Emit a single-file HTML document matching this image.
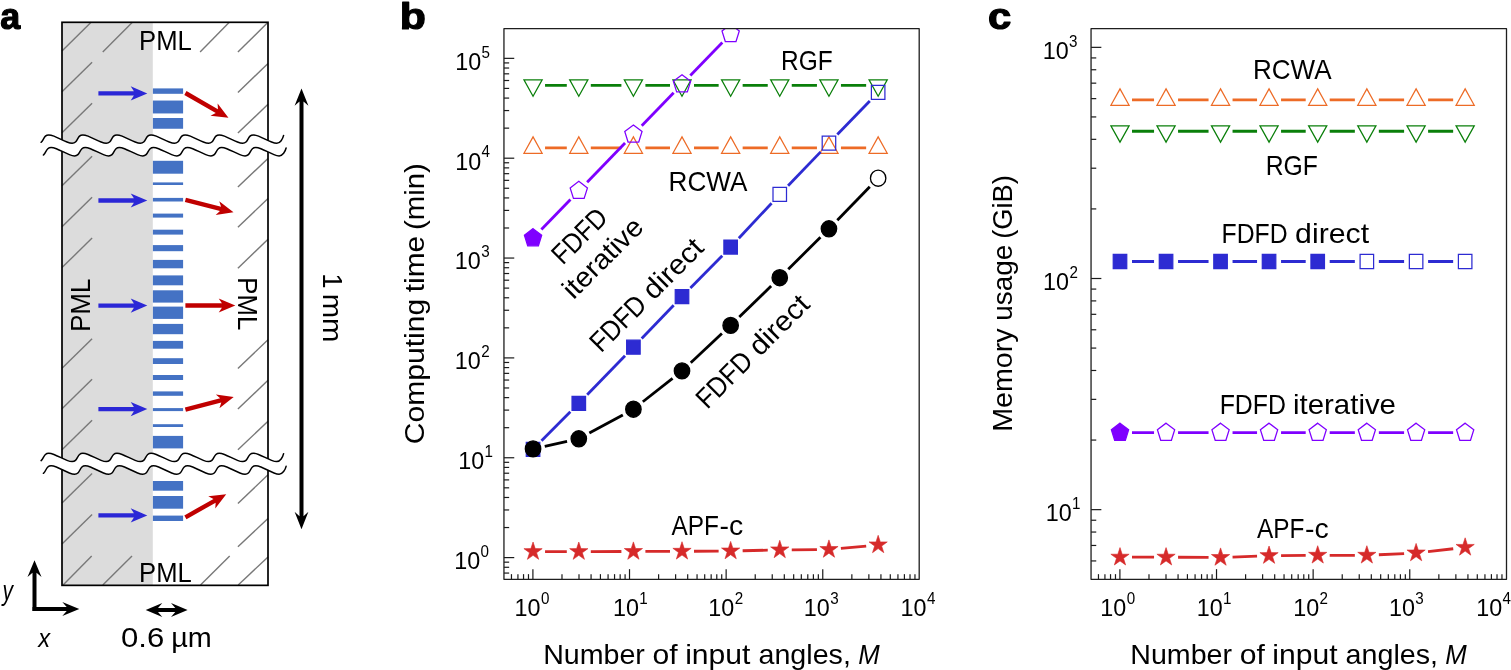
<!DOCTYPE html>
<html lang="en">
<head>
<meta charset="utf-8">
<title>Figure: computing time and memory usage</title>
<style>
html,body{margin:0;padding:0;background:#fff;}
body{width:1511px;height:670px;overflow:hidden;}
svg{display:block;}
text{font-family:"Liberation Sans", Arial, Helvetica, sans-serif;}
</style>
</head>
<body>
<svg width="1511" height="670" viewBox="0 0 1511 670" role="img" aria-label="Figure panels a, b and c">
<rect x="0" y="0" width="1511" height="670" fill="#fff"/>
<rect x="62" y="22.3" width="90.8" height="563.05" fill="#dcdcdc"/>
<g stroke="#787878" stroke-width="1.4" fill="none">
<line x1="62" y1="50.9" x2="91.1" y2="22.3"/>
<line x1="102.75" y1="51.9" x2="132.4" y2="22.3"/>
<line x1="200.1" y1="52.1" x2="229.3" y2="22.3"/>
<line x1="237.9" y1="52.1" x2="268" y2="22.3"/>
<line x1="62" y1="91.8" x2="92.1" y2="62.3"/>
<line x1="62" y1="132.8" x2="92.1" y2="103.2"/>
<line x1="62" y1="185.8" x2="92.1" y2="156.3"/>
<line x1="62" y1="226.7" x2="92.1" y2="197.2"/>
<line x1="62" y1="267.6" x2="92.1" y2="238.1"/>
<line x1="62" y1="368.2" x2="92.1" y2="338.7"/>
<line x1="62" y1="408.8" x2="92.1" y2="379.3"/>
<line x1="62" y1="449.7" x2="92.1" y2="420.2"/>
<line x1="62" y1="502.9" x2="92.1" y2="473.4"/>
<line x1="62" y1="544" x2="92.1" y2="514.5"/>
<line x1="237.9" y1="92.4" x2="268" y2="63.6"/>
<line x1="237.9" y1="133.1" x2="268" y2="104.3"/>
<line x1="237.9" y1="187" x2="268" y2="158.4"/>
<line x1="237.9" y1="227.3" x2="268" y2="198.5"/>
<line x1="237.9" y1="268.3" x2="268" y2="239.2"/>
<line x1="237.9" y1="368.5" x2="268" y2="339.7"/>
<line x1="237.9" y1="409.1" x2="268" y2="380.3"/>
<line x1="237.9" y1="449.8" x2="268" y2="421.2"/>
<line x1="237.9" y1="503.5" x2="268" y2="474.7"/>
<line x1="237.9" y1="546.8" x2="268" y2="518.4"/>
<line x1="63.1" y1="585" x2="91.7" y2="555.9"/>
<line x1="102.8" y1="585" x2="132" y2="555.9"/>
<line x1="200.5" y1="585" x2="229.7" y2="555.9"/>
<line x1="238.2" y1="585" x2="268" y2="556.9"/>
</g>
<g fill="#4472c4">
<rect x="152.9" y="88.4" width="30.2" height="5.4"/>
<rect x="152.9" y="100.55" width="30.2" height="12.9"/>
<rect x="152.9" y="118" width="30.2" height="10.75"/>
<rect x="152.9" y="160.8" width="30.2" height="12.9"/>
<rect x="152.9" y="182.4" width="30.2" height="2.6"/>
<rect x="152.9" y="197.9" width="30.2" height="3.6"/>
<rect x="152.9" y="213.6" width="30.2" height="4"/>
<rect x="152.9" y="229.7" width="30.2" height="4.9"/>
<rect x="152.9" y="245.1" width="30.2" height="6.1"/>
<rect x="152.9" y="259.9" width="30.2" height="8.4"/>
<rect x="152.9" y="275.4" width="30.2" height="9.9"/>
<rect x="152.9" y="290.3" width="30.2" height="12.3"/>
<rect x="152.9" y="306.6" width="30.2" height="12.3"/>
<rect x="152.9" y="323.9" width="30.2" height="10.3"/>
<rect x="152.9" y="340.9" width="30.2" height="7.8"/>
<rect x="152.9" y="358.2" width="30.2" height="5.8"/>
<rect x="152.9" y="375" width="30.2" height="5"/>
<rect x="152.9" y="391.4" width="30.2" height="4.4"/>
<rect x="152.9" y="408.1" width="30.2" height="3"/>
<rect x="152.9" y="424.2" width="30.2" height="2.8"/>
<rect x="152.9" y="435.9" width="30.2" height="12.5"/>
<rect x="152.9" y="481" width="30.2" height="9.7"/>
<rect x="152.9" y="496" width="30.2" height="12.7"/>
<rect x="152.9" y="515.6" width="30.2" height="5.4"/>
</g>
<rect x="62" y="22.3" width="206" height="563.05" fill="none" stroke="#000" stroke-width="1.7"/>
<path d="M41.1 142.31C41.2 142.24 41.29 142.16 41.38 142.07C42.22 141.29 42.81 140.2 43.4 139.1C43.99 138 44.58 136.91 45.42 136.13C46.25 135.35 47.33 134.9 48.75 134.9C50.17 134.9 51.93 135.35 53.94 136.13C55.95 136.91 58.2 138 60.45 139.1C62.7 140.2 64.95 141.29 66.96 142.07C68.97 142.85 70.73 143.3 72.15 143.3C73.57 143.3 74.65 142.85 75.48 142.07C76.32 141.29 76.91 140.2 77.5 139.1C78.09 138 78.68 136.91 79.52 136.13C80.35 135.35 81.43 134.9 82.85 134.9C84.27 134.9 86.03 135.35 88.04 136.13C90.05 136.91 92.3 138 94.55 139.1C96.8 140.2 99.05 141.29 101.06 142.07C103.07 142.85 104.83 143.3 106.25 143.3C107.67 143.3 108.75 142.85 109.58 142.07C110.42 141.29 111.01 140.2 111.6 139.1C112.19 138 112.78 136.91 113.62 136.13C114.45 135.35 115.53 134.9 116.95 134.9C118.37 134.9 120.13 135.35 122.14 136.13C124.15 136.91 126.4 138 128.65 139.1C130.9 140.2 133.15 141.29 135.16 142.07C137.17 142.85 138.93 143.3 140.35 143.3C141.77 143.3 142.85 142.85 143.68 142.07C144.52 141.29 145.11 140.2 145.7 139.1C146.29 138 146.88 136.91 147.72 136.13C148.55 135.35 149.63 134.9 151.05 134.9C152.47 134.9 154.23 135.35 156.24 136.13C158.25 136.91 160.5 138 162.75 139.1C165 140.2 167.25 141.29 169.26 142.07C171.27 142.85 173.03 143.3 174.45 143.3C175.87 143.3 176.95 142.85 177.78 142.07C178.62 141.29 179.21 140.2 179.8 139.1C180.39 138 180.98 136.91 181.82 136.13C182.65 135.35 183.73 134.9 185.15 134.9C186.57 134.9 188.33 135.35 190.34 136.13C192.35 136.91 194.6 138 196.85 139.1C199.1 140.2 201.35 141.29 203.36 142.07C205.37 142.85 207.13 143.3 208.55 143.3C209.97 143.3 211.05 142.85 211.88 142.07C212.72 141.29 213.31 140.2 213.9 139.1C214.49 138 215.08 136.91 215.92 136.13C216.75 135.35 217.83 134.9 219.25 134.9C220.67 134.9 222.43 135.35 224.44 136.13C226.45 136.91 228.7 138 230.95 139.1C233.2 140.2 235.45 141.29 237.46 142.07C239.47 142.85 241.23 143.3 242.65 143.3C244.07 143.3 245.15 142.85 245.98 142.07C246.82 141.29 247.41 140.2 248 139.1C248.59 138 249.18 136.91 250.02 136.13C250.85 135.35 251.93 134.9 253.35 134.9C254.77 134.9 256.53 135.35 258.54 136.13C260.55 136.91 262.8 138 265.05 139.1C267.3 140.2 269.55 141.29 271.56 142.07C273.57 142.85 275.33 143.3 276.75 143.3C280.18 143.3 282.78 138.96 283.6 135.4L286.1 148C285.27 151.55 282.62 155.9 279.15 155.9C277.73 155.9 275.97 155.45 273.96 154.67C271.95 153.89 269.7 152.8 267.45 151.7C265.2 150.6 262.95 149.51 260.94 148.73C258.93 147.95 257.17 147.5 255.75 147.5C254.33 147.5 253.25 147.95 252.42 148.73C251.58 149.51 250.99 150.6 250.4 151.7C249.81 152.8 249.22 153.89 248.38 154.67C247.55 155.45 246.47 155.9 245.05 155.9C243.63 155.9 241.87 155.45 239.86 154.67C237.85 153.89 235.6 152.8 233.35 151.7C231.1 150.6 228.85 149.51 226.84 148.73C224.83 147.95 223.07 147.5 221.65 147.5C220.23 147.5 219.15 147.95 218.32 148.73C217.48 149.51 216.89 150.6 216.3 151.7C215.71 152.8 215.12 153.89 214.28 154.67C213.45 155.45 212.37 155.9 210.95 155.9C209.53 155.9 207.77 155.45 205.76 154.67C203.75 153.89 201.5 152.8 199.25 151.7C197 150.6 194.75 149.51 192.74 148.73C190.73 147.95 188.97 147.5 187.55 147.5C186.13 147.5 185.05 147.95 184.22 148.73C183.38 149.51 182.79 150.6 182.2 151.7C181.61 152.8 181.02 153.89 180.18 154.67C179.35 155.45 178.27 155.9 176.85 155.9C175.43 155.9 173.67 155.45 171.66 154.67C169.65 153.89 167.4 152.8 165.15 151.7C162.9 150.6 160.65 149.51 158.64 148.73C156.63 147.95 154.87 147.5 153.45 147.5C152.03 147.5 150.95 147.95 150.12 148.73C149.28 149.51 148.69 150.6 148.1 151.7C147.51 152.8 146.92 153.89 146.08 154.67C145.25 155.45 144.17 155.9 142.75 155.9C141.33 155.9 139.57 155.45 137.56 154.67C135.55 153.89 133.3 152.8 131.05 151.7C128.8 150.6 126.55 149.51 124.54 148.73C122.53 147.95 120.77 147.5 119.35 147.5C117.93 147.5 116.85 147.95 116.02 148.73C115.18 149.51 114.59 150.6 114 151.7C113.41 152.8 112.82 153.89 111.98 154.67C111.15 155.45 110.07 155.9 108.65 155.9C107.23 155.9 105.47 155.45 103.46 154.67C101.45 153.89 99.2 152.8 96.95 151.7C94.7 150.6 92.45 149.51 90.44 148.73C88.43 147.95 86.67 147.5 85.25 147.5C83.83 147.5 82.75 147.95 81.92 148.73C81.08 149.51 80.49 150.6 79.9 151.7C79.31 152.8 78.72 153.89 77.88 154.67C77.05 155.45 75.97 155.9 74.55 155.9C73.13 155.9 71.37 155.45 69.36 154.67C67.35 153.89 65.1 152.8 62.85 151.7C60.6 150.6 58.35 149.51 56.34 148.73C54.33 147.95 52.57 147.5 51.15 147.5C49.73 147.5 48.65 147.95 47.82 148.73C46.98 149.51 46.39 150.6 45.8 151.7C45.21 152.8 44.62 153.89 43.78 154.67C43.66 154.78 43.53 154.89 43.4 154.99Z" fill="#fff"/>
<path d="M41.1 142.31C41.2 142.24 41.29 142.16 41.38 142.07C42.22 141.29 42.81 140.2 43.4 139.1C43.99 138 44.58 136.91 45.42 136.13C46.25 135.35 47.33 134.9 48.75 134.9C50.17 134.9 51.93 135.35 53.94 136.13C55.95 136.91 58.2 138 60.45 139.1C62.7 140.2 64.95 141.29 66.96 142.07C68.97 142.85 70.73 143.3 72.15 143.3C73.57 143.3 74.65 142.85 75.48 142.07C76.32 141.29 76.91 140.2 77.5 139.1C78.09 138 78.68 136.91 79.52 136.13C80.35 135.35 81.43 134.9 82.85 134.9C84.27 134.9 86.03 135.35 88.04 136.13C90.05 136.91 92.3 138 94.55 139.1C96.8 140.2 99.05 141.29 101.06 142.07C103.07 142.85 104.83 143.3 106.25 143.3C107.67 143.3 108.75 142.85 109.58 142.07C110.42 141.29 111.01 140.2 111.6 139.1C112.19 138 112.78 136.91 113.62 136.13C114.45 135.35 115.53 134.9 116.95 134.9C118.37 134.9 120.13 135.35 122.14 136.13C124.15 136.91 126.4 138 128.65 139.1C130.9 140.2 133.15 141.29 135.16 142.07C137.17 142.85 138.93 143.3 140.35 143.3C141.77 143.3 142.85 142.85 143.68 142.07C144.52 141.29 145.11 140.2 145.7 139.1C146.29 138 146.88 136.91 147.72 136.13C148.55 135.35 149.63 134.9 151.05 134.9C152.47 134.9 154.23 135.35 156.24 136.13C158.25 136.91 160.5 138 162.75 139.1C165 140.2 167.25 141.29 169.26 142.07C171.27 142.85 173.03 143.3 174.45 143.3C175.87 143.3 176.95 142.85 177.78 142.07C178.62 141.29 179.21 140.2 179.8 139.1C180.39 138 180.98 136.91 181.82 136.13C182.65 135.35 183.73 134.9 185.15 134.9C186.57 134.9 188.33 135.35 190.34 136.13C192.35 136.91 194.6 138 196.85 139.1C199.1 140.2 201.35 141.29 203.36 142.07C205.37 142.85 207.13 143.3 208.55 143.3C209.97 143.3 211.05 142.85 211.88 142.07C212.72 141.29 213.31 140.2 213.9 139.1C214.49 138 215.08 136.91 215.92 136.13C216.75 135.35 217.83 134.9 219.25 134.9C220.67 134.9 222.43 135.35 224.44 136.13C226.45 136.91 228.7 138 230.95 139.1C233.2 140.2 235.45 141.29 237.46 142.07C239.47 142.85 241.23 143.3 242.65 143.3C244.07 143.3 245.15 142.85 245.98 142.07C246.82 141.29 247.41 140.2 248 139.1C248.59 138 249.18 136.91 250.02 136.13C250.85 135.35 251.93 134.9 253.35 134.9C254.77 134.9 256.53 135.35 258.54 136.13C260.55 136.91 262.8 138 265.05 139.1C267.3 140.2 269.55 141.29 271.56 142.07C273.57 142.85 275.33 143.3 276.75 143.3C280.18 143.3 282.78 138.96 283.6 135.4" fill="none" stroke="#000" stroke-width="1.5" stroke-linecap="round"/>
<path d="M43.4 154.99C43.53 154.89 43.66 154.78 43.78 154.67C44.62 153.89 45.21 152.8 45.8 151.7C46.39 150.6 46.98 149.51 47.82 148.73C48.65 147.95 49.73 147.5 51.15 147.5C52.57 147.5 54.33 147.95 56.34 148.73C58.35 149.51 60.6 150.6 62.85 151.7C65.1 152.8 67.35 153.89 69.36 154.67C71.37 155.45 73.13 155.9 74.55 155.9C75.97 155.9 77.05 155.45 77.88 154.67C78.72 153.89 79.31 152.8 79.9 151.7C80.49 150.6 81.08 149.51 81.92 148.73C82.75 147.95 83.83 147.5 85.25 147.5C86.67 147.5 88.43 147.95 90.44 148.73C92.45 149.51 94.7 150.6 96.95 151.7C99.2 152.8 101.45 153.89 103.46 154.67C105.47 155.45 107.23 155.9 108.65 155.9C110.07 155.9 111.15 155.45 111.98 154.67C112.82 153.89 113.41 152.8 114 151.7C114.59 150.6 115.18 149.51 116.02 148.73C116.85 147.95 117.93 147.5 119.35 147.5C120.77 147.5 122.53 147.95 124.54 148.73C126.55 149.51 128.8 150.6 131.05 151.7C133.3 152.8 135.55 153.89 137.56 154.67C139.57 155.45 141.33 155.9 142.75 155.9C144.17 155.9 145.25 155.45 146.08 154.67C146.92 153.89 147.51 152.8 148.1 151.7C148.69 150.6 149.28 149.51 150.12 148.73C150.95 147.95 152.03 147.5 153.45 147.5C154.87 147.5 156.63 147.95 158.64 148.73C160.65 149.51 162.9 150.6 165.15 151.7C167.4 152.8 169.65 153.89 171.66 154.67C173.67 155.45 175.43 155.9 176.85 155.9C178.27 155.9 179.35 155.45 180.18 154.67C181.02 153.89 181.61 152.8 182.2 151.7C182.79 150.6 183.38 149.51 184.22 148.73C185.05 147.95 186.13 147.5 187.55 147.5C188.97 147.5 190.73 147.95 192.74 148.73C194.75 149.51 197 150.6 199.25 151.7C201.5 152.8 203.75 153.89 205.76 154.67C207.77 155.45 209.53 155.9 210.95 155.9C212.37 155.9 213.45 155.45 214.28 154.67C215.12 153.89 215.71 152.8 216.3 151.7C216.89 150.6 217.48 149.51 218.32 148.73C219.15 147.95 220.23 147.5 221.65 147.5C223.07 147.5 224.83 147.95 226.84 148.73C228.85 149.51 231.1 150.6 233.35 151.7C235.6 152.8 237.85 153.89 239.86 154.67C241.87 155.45 243.63 155.9 245.05 155.9C246.47 155.9 247.55 155.45 248.38 154.67C249.22 153.89 249.81 152.8 250.4 151.7C250.99 150.6 251.58 149.51 252.42 148.73C253.25 147.95 254.33 147.5 255.75 147.5C257.17 147.5 258.93 147.95 260.94 148.73C262.95 149.51 265.2 150.6 267.45 151.7C269.7 152.8 271.95 153.89 273.96 154.67C275.97 155.45 277.73 155.9 279.15 155.9C282.62 155.9 285.27 151.55 286.1 148" fill="none" stroke="#000" stroke-width="1.5" stroke-linecap="round"/>
<path d="M41.1 460.61C41.2 460.54 41.29 460.46 41.38 460.37C42.22 459.59 42.81 458.5 43.4 457.4C43.99 456.3 44.58 455.21 45.42 454.43C46.25 453.65 47.33 453.2 48.75 453.2C50.17 453.2 51.93 453.65 53.94 454.43C55.95 455.21 58.2 456.3 60.45 457.4C62.7 458.5 64.95 459.59 66.96 460.37C68.97 461.15 70.73 461.6 72.15 461.6C73.57 461.6 74.65 461.15 75.48 460.37C76.32 459.59 76.91 458.5 77.5 457.4C78.09 456.3 78.68 455.21 79.52 454.43C80.35 453.65 81.43 453.2 82.85 453.2C84.27 453.2 86.03 453.65 88.04 454.43C90.05 455.21 92.3 456.3 94.55 457.4C96.8 458.5 99.05 459.59 101.06 460.37C103.07 461.15 104.83 461.6 106.25 461.6C107.67 461.6 108.75 461.15 109.58 460.37C110.42 459.59 111.01 458.5 111.6 457.4C112.19 456.3 112.78 455.21 113.62 454.43C114.45 453.65 115.53 453.2 116.95 453.2C118.37 453.2 120.13 453.65 122.14 454.43C124.15 455.21 126.4 456.3 128.65 457.4C130.9 458.5 133.15 459.59 135.16 460.37C137.17 461.15 138.93 461.6 140.35 461.6C141.77 461.6 142.85 461.15 143.68 460.37C144.52 459.59 145.11 458.5 145.7 457.4C146.29 456.3 146.88 455.21 147.72 454.43C148.55 453.65 149.63 453.2 151.05 453.2C152.47 453.2 154.23 453.65 156.24 454.43C158.25 455.21 160.5 456.3 162.75 457.4C165 458.5 167.25 459.59 169.26 460.37C171.27 461.15 173.03 461.6 174.45 461.6C175.87 461.6 176.95 461.15 177.78 460.37C178.62 459.59 179.21 458.5 179.8 457.4C180.39 456.3 180.98 455.21 181.82 454.43C182.65 453.65 183.73 453.2 185.15 453.2C186.57 453.2 188.33 453.65 190.34 454.43C192.35 455.21 194.6 456.3 196.85 457.4C199.1 458.5 201.35 459.59 203.36 460.37C205.37 461.15 207.13 461.6 208.55 461.6C209.97 461.6 211.05 461.15 211.88 460.37C212.72 459.59 213.31 458.5 213.9 457.4C214.49 456.3 215.08 455.21 215.92 454.43C216.75 453.65 217.83 453.2 219.25 453.2C220.67 453.2 222.43 453.65 224.44 454.43C226.45 455.21 228.7 456.3 230.95 457.4C233.2 458.5 235.45 459.59 237.46 460.37C239.47 461.15 241.23 461.6 242.65 461.6C244.07 461.6 245.15 461.15 245.98 460.37C246.82 459.59 247.41 458.5 248 457.4C248.59 456.3 249.18 455.21 250.02 454.43C250.85 453.65 251.93 453.2 253.35 453.2C254.77 453.2 256.53 453.65 258.54 454.43C260.55 455.21 262.8 456.3 265.05 457.4C267.3 458.5 269.55 459.59 271.56 460.37C273.57 461.15 275.33 461.6 276.75 461.6C280.18 461.6 282.78 457.26 283.6 453.7L286.1 466.3C285.27 469.86 282.62 474.2 279.15 474.2C277.73 474.2 275.97 473.75 273.96 472.97C271.95 472.19 269.7 471.1 267.45 470C265.2 468.9 262.95 467.81 260.94 467.03C258.93 466.25 257.17 465.8 255.75 465.8C254.33 465.8 253.25 466.25 252.42 467.03C251.58 467.81 250.99 468.9 250.4 470C249.81 471.1 249.22 472.19 248.38 472.97C247.55 473.75 246.47 474.2 245.05 474.2C243.63 474.2 241.87 473.75 239.86 472.97C237.85 472.19 235.6 471.1 233.35 470C231.1 468.9 228.85 467.81 226.84 467.03C224.83 466.25 223.07 465.8 221.65 465.8C220.23 465.8 219.15 466.25 218.32 467.03C217.48 467.81 216.89 468.9 216.3 470C215.71 471.1 215.12 472.19 214.28 472.97C213.45 473.75 212.37 474.2 210.95 474.2C209.53 474.2 207.77 473.75 205.76 472.97C203.75 472.19 201.5 471.1 199.25 470C197 468.9 194.75 467.81 192.74 467.03C190.73 466.25 188.97 465.8 187.55 465.8C186.13 465.8 185.05 466.25 184.22 467.03C183.38 467.81 182.79 468.9 182.2 470C181.61 471.1 181.02 472.19 180.18 472.97C179.35 473.75 178.27 474.2 176.85 474.2C175.43 474.2 173.67 473.75 171.66 472.97C169.65 472.19 167.4 471.1 165.15 470C162.9 468.9 160.65 467.81 158.64 467.03C156.63 466.25 154.87 465.8 153.45 465.8C152.03 465.8 150.95 466.25 150.12 467.03C149.28 467.81 148.69 468.9 148.1 470C147.51 471.1 146.92 472.19 146.08 472.97C145.25 473.75 144.17 474.2 142.75 474.2C141.33 474.2 139.57 473.75 137.56 472.97C135.55 472.19 133.3 471.1 131.05 470C128.8 468.9 126.55 467.81 124.54 467.03C122.53 466.25 120.77 465.8 119.35 465.8C117.93 465.8 116.85 466.25 116.02 467.03C115.18 467.81 114.59 468.9 114 470C113.41 471.1 112.82 472.19 111.98 472.97C111.15 473.75 110.07 474.2 108.65 474.2C107.23 474.2 105.47 473.75 103.46 472.97C101.45 472.19 99.2 471.1 96.95 470C94.7 468.9 92.45 467.81 90.44 467.03C88.43 466.25 86.67 465.8 85.25 465.8C83.83 465.8 82.75 466.25 81.92 467.03C81.08 467.81 80.49 468.9 79.9 470C79.31 471.1 78.72 472.19 77.88 472.97C77.05 473.75 75.97 474.2 74.55 474.2C73.13 474.2 71.37 473.75 69.36 472.97C67.35 472.19 65.1 471.1 62.85 470C60.6 468.9 58.35 467.81 56.34 467.03C54.33 466.25 52.57 465.8 51.15 465.8C49.73 465.8 48.65 466.25 47.82 467.03C46.98 467.81 46.39 468.9 45.8 470C45.21 471.1 44.62 472.19 43.78 472.97C43.66 473.08 43.53 473.19 43.4 473.29Z" fill="#fff"/>
<path d="M41.1 460.61C41.2 460.54 41.29 460.46 41.38 460.37C42.22 459.59 42.81 458.5 43.4 457.4C43.99 456.3 44.58 455.21 45.42 454.43C46.25 453.65 47.33 453.2 48.75 453.2C50.17 453.2 51.93 453.65 53.94 454.43C55.95 455.21 58.2 456.3 60.45 457.4C62.7 458.5 64.95 459.59 66.96 460.37C68.97 461.15 70.73 461.6 72.15 461.6C73.57 461.6 74.65 461.15 75.48 460.37C76.32 459.59 76.91 458.5 77.5 457.4C78.09 456.3 78.68 455.21 79.52 454.43C80.35 453.65 81.43 453.2 82.85 453.2C84.27 453.2 86.03 453.65 88.04 454.43C90.05 455.21 92.3 456.3 94.55 457.4C96.8 458.5 99.05 459.59 101.06 460.37C103.07 461.15 104.83 461.6 106.25 461.6C107.67 461.6 108.75 461.15 109.58 460.37C110.42 459.59 111.01 458.5 111.6 457.4C112.19 456.3 112.78 455.21 113.62 454.43C114.45 453.65 115.53 453.2 116.95 453.2C118.37 453.2 120.13 453.65 122.14 454.43C124.15 455.21 126.4 456.3 128.65 457.4C130.9 458.5 133.15 459.59 135.16 460.37C137.17 461.15 138.93 461.6 140.35 461.6C141.77 461.6 142.85 461.15 143.68 460.37C144.52 459.59 145.11 458.5 145.7 457.4C146.29 456.3 146.88 455.21 147.72 454.43C148.55 453.65 149.63 453.2 151.05 453.2C152.47 453.2 154.23 453.65 156.24 454.43C158.25 455.21 160.5 456.3 162.75 457.4C165 458.5 167.25 459.59 169.26 460.37C171.27 461.15 173.03 461.6 174.45 461.6C175.87 461.6 176.95 461.15 177.78 460.37C178.62 459.59 179.21 458.5 179.8 457.4C180.39 456.3 180.98 455.21 181.82 454.43C182.65 453.65 183.73 453.2 185.15 453.2C186.57 453.2 188.33 453.65 190.34 454.43C192.35 455.21 194.6 456.3 196.85 457.4C199.1 458.5 201.35 459.59 203.36 460.37C205.37 461.15 207.13 461.6 208.55 461.6C209.97 461.6 211.05 461.15 211.88 460.37C212.72 459.59 213.31 458.5 213.9 457.4C214.49 456.3 215.08 455.21 215.92 454.43C216.75 453.65 217.83 453.2 219.25 453.2C220.67 453.2 222.43 453.65 224.44 454.43C226.45 455.21 228.7 456.3 230.95 457.4C233.2 458.5 235.45 459.59 237.46 460.37C239.47 461.15 241.23 461.6 242.65 461.6C244.07 461.6 245.15 461.15 245.98 460.37C246.82 459.59 247.41 458.5 248 457.4C248.59 456.3 249.18 455.21 250.02 454.43C250.85 453.65 251.93 453.2 253.35 453.2C254.77 453.2 256.53 453.65 258.54 454.43C260.55 455.21 262.8 456.3 265.05 457.4C267.3 458.5 269.55 459.59 271.56 460.37C273.57 461.15 275.33 461.6 276.75 461.6C280.18 461.6 282.78 457.26 283.6 453.7" fill="none" stroke="#000" stroke-width="1.5" stroke-linecap="round"/>
<path d="M43.4 473.29C43.53 473.19 43.66 473.08 43.78 472.97C44.62 472.19 45.21 471.1 45.8 470C46.39 468.9 46.98 467.81 47.82 467.03C48.65 466.25 49.73 465.8 51.15 465.8C52.57 465.8 54.33 466.25 56.34 467.03C58.35 467.81 60.6 468.9 62.85 470C65.1 471.1 67.35 472.19 69.36 472.97C71.37 473.75 73.13 474.2 74.55 474.2C75.97 474.2 77.05 473.75 77.88 472.97C78.72 472.19 79.31 471.1 79.9 470C80.49 468.9 81.08 467.81 81.92 467.03C82.75 466.25 83.83 465.8 85.25 465.8C86.67 465.8 88.43 466.25 90.44 467.03C92.45 467.81 94.7 468.9 96.95 470C99.2 471.1 101.45 472.19 103.46 472.97C105.47 473.75 107.23 474.2 108.65 474.2C110.07 474.2 111.15 473.75 111.98 472.97C112.82 472.19 113.41 471.1 114 470C114.59 468.9 115.18 467.81 116.02 467.03C116.85 466.25 117.93 465.8 119.35 465.8C120.77 465.8 122.53 466.25 124.54 467.03C126.55 467.81 128.8 468.9 131.05 470C133.3 471.1 135.55 472.19 137.56 472.97C139.57 473.75 141.33 474.2 142.75 474.2C144.17 474.2 145.25 473.75 146.08 472.97C146.92 472.19 147.51 471.1 148.1 470C148.69 468.9 149.28 467.81 150.12 467.03C150.95 466.25 152.03 465.8 153.45 465.8C154.87 465.8 156.63 466.25 158.64 467.03C160.65 467.81 162.9 468.9 165.15 470C167.4 471.1 169.65 472.19 171.66 472.97C173.67 473.75 175.43 474.2 176.85 474.2C178.27 474.2 179.35 473.75 180.18 472.97C181.02 472.19 181.61 471.1 182.2 470C182.79 468.9 183.38 467.81 184.22 467.03C185.05 466.25 186.13 465.8 187.55 465.8C188.97 465.8 190.73 466.25 192.74 467.03C194.75 467.81 197 468.9 199.25 470C201.5 471.1 203.75 472.19 205.76 472.97C207.77 473.75 209.53 474.2 210.95 474.2C212.37 474.2 213.45 473.75 214.28 472.97C215.12 472.19 215.71 471.1 216.3 470C216.89 468.9 217.48 467.81 218.32 467.03C219.15 466.25 220.23 465.8 221.65 465.8C223.07 465.8 224.83 466.25 226.84 467.03C228.85 467.81 231.1 468.9 233.35 470C235.6 471.1 237.85 472.19 239.86 472.97C241.87 473.75 243.63 474.2 245.05 474.2C246.47 474.2 247.55 473.75 248.38 472.97C249.22 472.19 249.81 471.1 250.4 470C250.99 468.9 251.58 467.81 252.42 467.03C253.25 466.25 254.33 465.8 255.75 465.8C257.17 465.8 258.93 466.25 260.94 467.03C262.95 467.81 265.2 468.9 267.45 470C269.7 471.1 271.95 472.19 273.96 472.97C275.97 473.75 277.73 474.2 279.15 474.2C282.62 474.2 285.27 469.86 286.1 466.3" fill="none" stroke="#000" stroke-width="1.5" stroke-linecap="round"/>
<path transform="translate(98.4 93.4) rotate(0)" d="M0 -2.2 L35.5 -2.2 L32.3 -7.1 L48.9 0 L32.3 7.1 L35.5 2.2 L0 2.2Z" fill="#2b27d6"/>
<path transform="translate(98.4 200.5) rotate(0)" d="M0 -2.2 L35.5 -2.2 L32.3 -7.1 L48.9 0 L32.3 7.1 L35.5 2.2 L0 2.2Z" fill="#2b27d6"/>
<path transform="translate(98.4 305.6) rotate(0)" d="M0 -2.2 L35.5 -2.2 L32.3 -7.1 L48.9 0 L32.3 7.1 L35.5 2.2 L0 2.2Z" fill="#2b27d6"/>
<path transform="translate(98.4 409.1) rotate(0)" d="M0 -2.2 L35.5 -2.2 L32.3 -7.1 L48.9 0 L32.3 7.1 L35.5 2.2 L0 2.2Z" fill="#2b27d6"/>
<path transform="translate(98.4 515.4) rotate(0)" d="M0 -2.2 L35.5 -2.2 L32.3 -7.1 L48.9 0 L32.3 7.1 L35.5 2.2 L0 2.2Z" fill="#2b27d6"/>
<path transform="translate(185.4 93) rotate(30)" d="M0 -2.2 L36.3 -2.2 L33.1 -7.1 L49.7 0 L33.1 7.1 L36.3 2.2 L0 2.2Z" fill="#c00000"/>
<path transform="translate(185.4 199.9) rotate(14.5)" d="M0 -2.2 L36.3 -2.2 L33.1 -7.1 L49.7 0 L33.1 7.1 L36.3 2.2 L0 2.2Z" fill="#c00000"/>
<path transform="translate(185.4 305.5) rotate(0)" d="M0 -2.2 L36.5 -2.2 L33.3 -7.1 L49.9 0 L33.3 7.1 L36.5 2.2 L0 2.2Z" fill="#c00000"/>
<path transform="translate(185.4 409.6) rotate(-14.5)" d="M0 -2.2 L36.5 -2.2 L33.3 -7.1 L49.9 0 L33.3 7.1 L36.5 2.2 L0 2.2Z" fill="#c00000"/>
<path transform="translate(185.4 517.3) rotate(-29.5)" d="M0 -2.2 L33.5 -2.2 L30.3 -7.1 L46.9 0 L30.3 7.1 L33.5 2.2 L0 2.2Z" fill="#c00000"/>
<path transform="translate(301.5 88.4) rotate(90)" d="M0 0 L17.4 -6.9 L13 -2 L427.8 -2 L423.4 -6.9 L440.8 0 L423.4 6.9 L427.8 2 L13 2 L17.4 6.9Z" fill="#000"/>
<path transform="translate(34.5 611.1) rotate(-90)" d="M0 -2 L38.4 -2 L34 -7 L50.9 0 L34 7 L38.4 2 L0 2Z" fill="#000"/>
<path transform="translate(32.5 609.1) rotate(0)" d="M0 -2 L34.2 -2 L29.8 -7 L46.8 0 L29.8 7 L34.2 2 L0 2Z" fill="#000"/>
<path transform="translate(145.7 609.9) rotate(0)" d="M0 0 L16.6 -7 L12.3 -2 L29.6 -2 L25.3 -7 L41.9 0 L25.3 7 L29.6 2 L12.3 2 L16.6 7Z" fill="#000"/>
<text transform="translate(139.08 49.9) scale(0.9144 1)" font-size="28.07">PML</text>
<text transform="translate(139.09 581.9) scale(0.9126 1)" font-size="28.07">PML</text>
<text transform="translate(89.6 331.63) rotate(-90) scale(0.9277 1)" font-size="27.78">PML</text>
<text transform="translate(238.1 277.27) rotate(90) scale(0.9277 1)" font-size="27.78">PML</text>
<text transform="translate(322.8 276) rotate(90)" font-size="27.78"><tspan x="-2.78" textLength="15.43" lengthAdjust="spacingAndGlyphs">1</tspan> <tspan x="17.73" textLength="48.7" lengthAdjust="spacingAndGlyphs">mm</tspan></text>
<text transform="translate(122.3 646.8)" font-size="28.07"><tspan x="-1.24" textLength="43.25" lengthAdjust="spacingAndGlyphs">0.6</tspan> <tspan x="48.96" textLength="40.56" lengthAdjust="spacingAndGlyphs">µm</tspan></text>
<text transform="translate(2.45 599.5) scale(0.7775 1)" font-size="27" font-style="italic">y</text>
<text transform="translate(38.35 646.5) scale(0.8943 1)" font-size="26.6" font-style="italic">x</text>
<text transform="translate(0.32 28.7) scale(0.9720 1)" font-size="36.9" font-weight="bold" stroke="#000" stroke-width="1.2" stroke-linejoin="round">a</text>
<clipPath id="cb"><rect x="503.95" y="28.67" width="415.25" height="550.68"/></clipPath>
<g stroke="#1a1a1a" stroke-width="1.2" fill="none">
<line x1="503.95" y1="573.07" x2="509.15" y2="573.07"/>
<line x1="503.95" y1="567.28" x2="509.15" y2="567.28"/>
<line x1="503.95" y1="562.17" x2="509.15" y2="562.17"/>
<line x1="503.95" y1="557.6" x2="514.25" y2="557.6"/>
<line x1="503.95" y1="527.54" x2="509.15" y2="527.54"/>
<line x1="503.95" y1="509.96" x2="509.15" y2="509.96"/>
<line x1="503.95" y1="497.48" x2="509.15" y2="497.48"/>
<line x1="503.95" y1="487.81" x2="509.15" y2="487.81"/>
<line x1="503.95" y1="479.9" x2="509.15" y2="479.9"/>
<line x1="503.95" y1="473.22" x2="509.15" y2="473.22"/>
<line x1="503.95" y1="467.43" x2="509.15" y2="467.43"/>
<line x1="503.95" y1="462.32" x2="509.15" y2="462.32"/>
<line x1="503.95" y1="457.75" x2="514.25" y2="457.75"/>
<line x1="503.95" y1="427.69" x2="509.15" y2="427.69"/>
<line x1="503.95" y1="410.11" x2="509.15" y2="410.11"/>
<line x1="503.95" y1="397.63" x2="509.15" y2="397.63"/>
<line x1="503.95" y1="387.96" x2="509.15" y2="387.96"/>
<line x1="503.95" y1="380.05" x2="509.15" y2="380.05"/>
<line x1="503.95" y1="373.37" x2="509.15" y2="373.37"/>
<line x1="503.95" y1="367.58" x2="509.15" y2="367.58"/>
<line x1="503.95" y1="362.47" x2="509.15" y2="362.47"/>
<line x1="503.95" y1="357.9" x2="514.25" y2="357.9"/>
<line x1="503.95" y1="327.84" x2="509.15" y2="327.84"/>
<line x1="503.95" y1="310.26" x2="509.15" y2="310.26"/>
<line x1="503.95" y1="297.78" x2="509.15" y2="297.78"/>
<line x1="503.95" y1="288.11" x2="509.15" y2="288.11"/>
<line x1="503.95" y1="280.2" x2="509.15" y2="280.2"/>
<line x1="503.95" y1="273.52" x2="509.15" y2="273.52"/>
<line x1="503.95" y1="267.73" x2="509.15" y2="267.73"/>
<line x1="503.95" y1="262.62" x2="509.15" y2="262.62"/>
<line x1="503.95" y1="258.05" x2="514.25" y2="258.05"/>
<line x1="503.95" y1="227.99" x2="509.15" y2="227.99"/>
<line x1="503.95" y1="210.41" x2="509.15" y2="210.41"/>
<line x1="503.95" y1="197.93" x2="509.15" y2="197.93"/>
<line x1="503.95" y1="188.26" x2="509.15" y2="188.26"/>
<line x1="503.95" y1="180.35" x2="509.15" y2="180.35"/>
<line x1="503.95" y1="173.67" x2="509.15" y2="173.67"/>
<line x1="503.95" y1="167.88" x2="509.15" y2="167.88"/>
<line x1="503.95" y1="162.77" x2="509.15" y2="162.77"/>
<line x1="503.95" y1="158.2" x2="514.25" y2="158.2"/>
<line x1="503.95" y1="128.14" x2="509.15" y2="128.14"/>
<line x1="503.95" y1="110.56" x2="509.15" y2="110.56"/>
<line x1="503.95" y1="98.08" x2="509.15" y2="98.08"/>
<line x1="503.95" y1="88.41" x2="509.15" y2="88.41"/>
<line x1="503.95" y1="80.5" x2="509.15" y2="80.5"/>
<line x1="503.95" y1="73.82" x2="509.15" y2="73.82"/>
<line x1="503.95" y1="68.03" x2="509.15" y2="68.03"/>
<line x1="503.95" y1="62.92" x2="509.15" y2="62.92"/>
<line x1="503.95" y1="58.35" x2="514.25" y2="58.35"/>
</g>
<g stroke="#1a1a1a" stroke-width="1.2" fill="none">
<line x1="511.46" y1="579.35" x2="511.46" y2="574.15"/>
<line x1="517.93" y1="579.35" x2="517.93" y2="574.15"/>
<line x1="523.54" y1="579.35" x2="523.54" y2="574.15"/>
<line x1="528.48" y1="579.35" x2="528.48" y2="574.15"/>
<line x1="532.9" y1="579.35" x2="532.9" y2="569.15"/>
<line x1="561.99" y1="579.35" x2="561.99" y2="574.15"/>
<line x1="579" y1="579.35" x2="579" y2="574.15"/>
<line x1="591.07" y1="579.35" x2="591.07" y2="574.15"/>
<line x1="600.43" y1="579.35" x2="600.43" y2="574.15"/>
<line x1="608.08" y1="579.35" x2="608.08" y2="574.15"/>
<line x1="614.55" y1="579.35" x2="614.55" y2="574.15"/>
<line x1="620.16" y1="579.35" x2="620.16" y2="574.15"/>
<line x1="625.1" y1="579.35" x2="625.1" y2="574.15"/>
<line x1="629.52" y1="579.35" x2="629.52" y2="569.15"/>
<line x1="658.61" y1="579.35" x2="658.61" y2="574.15"/>
<line x1="675.62" y1="579.35" x2="675.62" y2="574.15"/>
<line x1="687.69" y1="579.35" x2="687.69" y2="574.15"/>
<line x1="697.05" y1="579.35" x2="697.05" y2="574.15"/>
<line x1="704.7" y1="579.35" x2="704.7" y2="574.15"/>
<line x1="711.17" y1="579.35" x2="711.17" y2="574.15"/>
<line x1="716.78" y1="579.35" x2="716.78" y2="574.15"/>
<line x1="721.72" y1="579.35" x2="721.72" y2="574.15"/>
<line x1="726.14" y1="579.35" x2="726.14" y2="569.15"/>
<line x1="755.23" y1="579.35" x2="755.23" y2="574.15"/>
<line x1="772.24" y1="579.35" x2="772.24" y2="574.15"/>
<line x1="784.31" y1="579.35" x2="784.31" y2="574.15"/>
<line x1="793.67" y1="579.35" x2="793.67" y2="574.15"/>
<line x1="801.32" y1="579.35" x2="801.32" y2="574.15"/>
<line x1="807.79" y1="579.35" x2="807.79" y2="574.15"/>
<line x1="813.4" y1="579.35" x2="813.4" y2="574.15"/>
<line x1="818.34" y1="579.35" x2="818.34" y2="574.15"/>
<line x1="822.76" y1="579.35" x2="822.76" y2="569.15"/>
<line x1="851.85" y1="579.35" x2="851.85" y2="574.15"/>
<line x1="868.86" y1="579.35" x2="868.86" y2="574.15"/>
<line x1="880.93" y1="579.35" x2="880.93" y2="574.15"/>
<line x1="890.29" y1="579.35" x2="890.29" y2="574.15"/>
<line x1="897.94" y1="579.35" x2="897.94" y2="574.15"/>
<line x1="904.41" y1="579.35" x2="904.41" y2="574.15"/>
<line x1="910.02" y1="579.35" x2="910.02" y2="574.15"/>
<line x1="914.96" y1="579.35" x2="914.96" y2="574.15"/>
</g>
<g clip-path="url(#cb)">
<line x1="545.05" y1="85.3" x2="566.8" y2="85.3" stroke="#0a7f0a" stroke-width="2.8"/>
<line x1="590.8" y1="85.3" x2="621.4" y2="85.3" stroke="#0a7f0a" stroke-width="2.8"/>
<line x1="645.4" y1="85.3" x2="670" y2="85.3" stroke="#0a7f0a" stroke-width="2.8"/>
<line x1="694" y1="85.3" x2="718.65" y2="85.3" stroke="#0a7f0a" stroke-width="2.8"/>
<line x1="742.65" y1="85.3" x2="767.75" y2="85.3" stroke="#0a7f0a" stroke-width="2.8"/>
<line x1="791.75" y1="85.3" x2="816.95" y2="85.3" stroke="#0a7f0a" stroke-width="2.8"/>
<line x1="840.95" y1="85.3" x2="866.15" y2="85.3" stroke="#0a7f0a" stroke-width="2.8"/>
<polygon points="533.05,96.22 542.14,79.84 523.96,79.84" fill="none" stroke="#0a7f0a" stroke-width="1.25"/>
<polygon points="578.8,96.22 587.89,79.84 569.71,79.84" fill="none" stroke="#0a7f0a" stroke-width="1.25"/>
<polygon points="633.4,96.22 642.49,79.84 624.31,79.84" fill="none" stroke="#0a7f0a" stroke-width="1.25"/>
<polygon points="682,96.22 691.09,79.84 672.91,79.84" fill="none" stroke="#0a7f0a" stroke-width="1.25"/>
<polygon points="730.65,96.22 739.74,79.84 721.56,79.84" fill="none" stroke="#0a7f0a" stroke-width="1.25"/>
<polygon points="779.75,96.22 788.84,79.84 770.66,79.84" fill="none" stroke="#0a7f0a" stroke-width="1.25"/>
<polygon points="828.95,96.22 838.04,79.84 819.86,79.84" fill="none" stroke="#0a7f0a" stroke-width="1.25"/>
<polygon points="878.15,96.22 887.24,79.84 869.06,79.84" fill="none" stroke="#0a7f0a" stroke-width="1.25"/>
<line x1="545.05" y1="147.8" x2="566.8" y2="147.8" stroke="#ed6b26" stroke-width="2.8"/>
<line x1="590.8" y1="147.8" x2="621.4" y2="147.8" stroke="#ed6b26" stroke-width="2.8"/>
<line x1="645.4" y1="147.8" x2="670" y2="147.8" stroke="#ed6b26" stroke-width="2.8"/>
<line x1="694" y1="147.8" x2="718.65" y2="147.8" stroke="#ed6b26" stroke-width="2.8"/>
<line x1="742.65" y1="147.8" x2="767.75" y2="147.8" stroke="#ed6b26" stroke-width="2.8"/>
<line x1="791.75" y1="147.8" x2="816.95" y2="147.8" stroke="#ed6b26" stroke-width="2.8"/>
<line x1="840.95" y1="147.8" x2="866.15" y2="147.8" stroke="#ed6b26" stroke-width="2.8"/>
<polygon points="533.05,136.88 542.14,153.26 523.96,153.26" fill="none" stroke="#ed6b26" stroke-width="1.25"/>
<polygon points="578.8,136.88 587.89,153.26 569.71,153.26" fill="none" stroke="#ed6b26" stroke-width="1.25"/>
<polygon points="633.4,136.88 642.49,153.26 624.31,153.26" fill="none" stroke="#ed6b26" stroke-width="1.25"/>
<polygon points="682,136.88 691.09,153.26 672.91,153.26" fill="none" stroke="#ed6b26" stroke-width="1.25"/>
<polygon points="730.65,136.88 739.74,153.26 721.56,153.26" fill="none" stroke="#ed6b26" stroke-width="1.25"/>
<polygon points="779.75,136.88 788.84,153.26 770.66,153.26" fill="none" stroke="#ed6b26" stroke-width="1.25"/>
<polygon points="828.95,136.88 838.04,153.26 819.86,153.26" fill="none" stroke="#ed6b26" stroke-width="1.25"/>
<polygon points="878.15,136.88 887.24,153.26 869.06,153.26" fill="none" stroke="#ed6b26" stroke-width="1.25"/>
<line x1="541.39" y1="229.48" x2="570.46" y2="199.44" stroke="#7f00ff" stroke-width="2.8"/>
<line x1="587.14" y1="182.19" x2="625.06" y2="143.01" stroke="#7f00ff" stroke-width="2.8"/>
<line x1="641.74" y1="125.76" x2="673.66" y2="92.78" stroke="#7f00ff" stroke-width="2.8"/>
<line x1="690.34" y1="75.54" x2="722.31" y2="42.5" stroke="#7f00ff" stroke-width="2.8"/>
<polygon points="533.05,228.64 541.7,235.18 538.4,245.76 527.7,245.76 524.4,235.18" fill="#7f00ff" stroke="#7f00ff" stroke-width="1.25"/>
<polygon points="578.8,181.35 587.45,187.89 584.15,198.47 573.45,198.47 570.15,187.89" fill="none" stroke="#7f00ff" stroke-width="1.25"/>
<polygon points="633.4,124.92 642.05,131.46 638.75,142.04 628.05,142.04 624.75,131.46" fill="none" stroke="#7f00ff" stroke-width="1.25"/>
<polygon points="682,74.7 690.65,81.24 687.35,91.82 676.65,91.82 673.35,81.24" fill="none" stroke="#7f00ff" stroke-width="1.25"/>
<polygon points="730.65,24.42 739.3,30.96 736,41.54 725.3,41.54 722,30.96" fill="none" stroke="#7f00ff" stroke-width="1.25"/>
<line x1="541.51" y1="440.79" x2="570.34" y2="411.81" stroke="#2d2bd2" stroke-width="2.8"/>
<line x1="587.17" y1="394.7" x2="625.03" y2="355.8" stroke="#2d2bd2" stroke-width="2.8"/>
<line x1="641.71" y1="338.55" x2="673.69" y2="305.25" stroke="#2d2bd2" stroke-width="2.8"/>
<line x1="690.41" y1="288.04" x2="722.24" y2="255.66" stroke="#2d2bd2" stroke-width="2.8"/>
<line x1="738.83" y1="238.32" x2="771.57" y2="203.18" stroke="#2d2bd2" stroke-width="2.8"/>
<line x1="788.06" y1="185.75" x2="820.64" y2="151.85" stroke="#2d2bd2" stroke-width="2.8"/>
<line x1="837.3" y1="134.58" x2="869.8" y2="101.02" stroke="#2d2bd2" stroke-width="2.8"/>
<polygon points="526.3,442.28 539.8,442.28 539.8,456.32 526.3,456.32" fill="#2d2bd2" stroke="#2d2bd2" stroke-width="1.25"/>
<polygon points="572.05,396.28 585.55,396.28 585.55,410.32 572.05,410.32" fill="#2d2bd2" stroke="#2d2bd2" stroke-width="1.25"/>
<polygon points="626.65,340.18 640.15,340.18 640.15,354.22 626.65,354.22" fill="#2d2bd2" stroke="#2d2bd2" stroke-width="1.25"/>
<polygon points="675.25,289.58 688.75,289.58 688.75,303.62 675.25,303.62" fill="#2d2bd2" stroke="#2d2bd2" stroke-width="1.25"/>
<polygon points="723.9,240.08 737.4,240.08 737.4,254.12 723.9,254.12" fill="#2d2bd2" stroke="#2d2bd2" stroke-width="1.25"/>
<polygon points="773,187.38 786.5,187.38 786.5,201.42 773,201.42" fill="none" stroke="#2d2bd2" stroke-width="1.25"/>
<polygon points="822.2,136.18 835.7,136.18 835.7,150.22 822.2,150.22" fill="none" stroke="#2d2bd2" stroke-width="1.25"/>
<polygon points="871.4,85.38 884.9,85.38 884.9,99.42 871.4,99.42" fill="none" stroke="#2d2bd2" stroke-width="1.25"/>
<line x1="544.77" y1="446.31" x2="567.08" y2="441.39" stroke="#000" stroke-width="2.8"/>
<line x1="589.35" y1="433.08" x2="622.85" y2="414.92" stroke="#000" stroke-width="2.8"/>
<line x1="642.83" y1="401.77" x2="672.57" y2="378.33" stroke="#000" stroke-width="2.8"/>
<line x1="690.76" y1="362.7" x2="721.89" y2="333.6" stroke="#000" stroke-width="2.8"/>
<line x1="739.26" y1="317.04" x2="771.14" y2="286.06" stroke="#000" stroke-width="2.8"/>
<line x1="788.26" y1="269.24" x2="820.44" y2="237.26" stroke="#000" stroke-width="2.8"/>
<line x1="837.32" y1="220.2" x2="869.78" y2="186.8" stroke="#000" stroke-width="2.8"/>
<ellipse cx="533.05" cy="448.9" rx="7.7" ry="8.01" fill="#000" stroke="#000" stroke-width="1.35"/>
<ellipse cx="578.8" cy="438.8" rx="7.7" ry="8.01" fill="#000" stroke="#000" stroke-width="1.35"/>
<ellipse cx="633.4" cy="409.2" rx="7.7" ry="8.01" fill="#000" stroke="#000" stroke-width="1.35"/>
<ellipse cx="682" cy="370.9" rx="7.7" ry="8.01" fill="#000" stroke="#000" stroke-width="1.35"/>
<ellipse cx="730.65" cy="325.4" rx="7.7" ry="8.01" fill="#000" stroke="#000" stroke-width="1.35"/>
<ellipse cx="779.75" cy="277.7" rx="7.7" ry="8.01" fill="#000" stroke="#000" stroke-width="1.35"/>
<ellipse cx="828.95" cy="228.8" rx="7.7" ry="8.01" fill="#000" stroke="#000" stroke-width="1.35"/>
<ellipse cx="878.15" cy="178.2" rx="7.7" ry="8.01" fill="none" stroke="#000" stroke-width="1.35"/>
<line x1="545.05" y1="551.6" x2="566.8" y2="551.6" stroke="#d62a2a" stroke-width="2.8"/>
<line x1="590.8" y1="551.58" x2="621.4" y2="551.52" stroke="#d62a2a" stroke-width="2.8"/>
<line x1="645.4" y1="551.45" x2="670" y2="551.35" stroke="#d62a2a" stroke-width="2.8"/>
<line x1="694" y1="551.23" x2="718.65" y2="551.07" stroke="#d62a2a" stroke-width="2.8"/>
<line x1="742.65" y1="550.73" x2="767.75" y2="550.17" stroke="#d62a2a" stroke-width="2.8"/>
<line x1="791.75" y1="549.8" x2="816.95" y2="549.6" stroke="#d62a2a" stroke-width="2.8"/>
<line x1="840.9" y1="548.38" x2="866.2" y2="546.02" stroke="#d62a2a" stroke-width="2.8"/>
<polygon points="533.05,542 535.22,548.61 542.18,548.63 536.57,552.74 538.69,559.37 533.05,555.3 527.41,559.37 529.53,552.74 523.92,548.63 530.88,548.61" fill="#d62a2a" stroke="#d62a2a" stroke-width="0.6"/>
<polygon points="578.8,542 580.97,548.61 587.93,548.63 582.32,552.74 584.44,559.37 578.8,555.3 573.16,559.37 575.28,552.74 569.67,548.63 576.63,548.61" fill="#d62a2a" stroke="#d62a2a" stroke-width="0.6"/>
<polygon points="633.4,541.9 635.57,548.51 642.53,548.53 636.92,552.64 639.04,559.27 633.4,555.2 627.76,559.27 629.88,552.64 624.27,548.53 631.23,548.51" fill="#d62a2a" stroke="#d62a2a" stroke-width="0.6"/>
<polygon points="682,541.7 684.17,548.31 691.13,548.33 685.52,552.44 687.64,559.07 682,555 676.36,559.07 678.48,552.44 672.87,548.33 679.83,548.31" fill="#d62a2a" stroke="#d62a2a" stroke-width="0.6"/>
<polygon points="730.65,541.4 732.82,548.01 739.78,548.03 734.17,552.14 736.29,558.77 730.65,554.7 725.01,558.77 727.13,552.14 721.52,548.03 728.48,548.01" fill="#d62a2a" stroke="#d62a2a" stroke-width="0.6"/>
<polygon points="779.75,540.3 781.92,546.91 788.88,546.93 783.27,551.04 785.39,557.67 779.75,553.6 774.11,557.67 776.23,551.04 770.62,546.93 777.58,546.91" fill="#d62a2a" stroke="#d62a2a" stroke-width="0.6"/>
<polygon points="828.95,539.9 831.12,546.51 838.08,546.53 832.47,550.64 834.59,557.27 828.95,553.2 823.31,557.27 825.43,550.64 819.82,546.53 826.78,546.51" fill="#d62a2a" stroke="#d62a2a" stroke-width="0.6"/>
<polygon points="878.15,535.3 880.32,541.91 887.28,541.93 881.67,546.04 883.79,552.67 878.15,548.6 872.51,552.67 874.63,546.04 869.02,541.93 875.98,541.91" fill="#d62a2a" stroke="#d62a2a" stroke-width="0.6"/>
</g>
<rect x="503.95" y="28.67" width="415.25" height="550.68" fill="none" stroke="#1e1e1e" stroke-width="1.3" stroke-linejoin="round"/>
<text transform="translate(454.25 568.9) scale(0.9692 1)" font-size="24.1">10<tspan font-size="15.68" dx="0.38" dy="-12.1">0</tspan></text>
<text transform="translate(458.25 469.05) scale(0.9692 1)" font-size="24.1">10<tspan font-size="15.68" dx="0.38" dy="-12.1">1</tspan></text>
<text transform="translate(454.85 369.2) scale(0.9692 1)" font-size="24.1">10<tspan font-size="15.68" dx="0.38" dy="-12.1">2</tspan></text>
<text transform="translate(454.85 269.35) scale(0.9692 1)" font-size="24.1">10<tspan font-size="15.68" dx="0.38" dy="-12.1">3</tspan></text>
<text transform="translate(455.15 169.5) scale(0.9692 1)" font-size="24.1">10<tspan font-size="15.68" dx="0.38" dy="-12.1">4</tspan></text>
<text transform="translate(455.25 69.65) scale(0.9692 1)" font-size="24.1">10<tspan font-size="15.68" dx="0.38" dy="-12.1">5</tspan></text>
<text transform="translate(514.55 615.6) scale(0.9692 1)" font-size="24.1">10<tspan font-size="15.68" dx="0.38" dy="-12.1">0</tspan></text>
<text transform="translate(612.95 615.6) scale(0.9692 1)" font-size="24.1">10<tspan font-size="15.68" dx="0.38" dy="-12.1">1</tspan></text>
<text transform="translate(708.35 615.6) scale(0.9692 1)" font-size="24.1">10<tspan font-size="15.68" dx="0.38" dy="-12.1">2</tspan></text>
<text transform="translate(803.85 615.6) scale(0.9692 1)" font-size="24.1">10<tspan font-size="15.68" dx="0.38" dy="-12.1">3</tspan></text>
<text transform="translate(900.55 615.6) scale(0.9692 1)" font-size="24.1">10<tspan font-size="15.68" dx="0.38" dy="-12.1">4</tspan></text>
<text transform="translate(423.7 442.7) rotate(-90)" font-size="28.36"><tspan x="-1.5" textLength="145.31" lengthAdjust="spacingAndGlyphs">Computing</tspan> <tspan x="150.45" textLength="56.47" lengthAdjust="spacingAndGlyphs">time</tspan> <tspan x="212.66" textLength="66.97" lengthAdjust="spacingAndGlyphs">(min)</tspan></text>
<text transform="translate(544.8 663.95)" font-size="27.78"><tspan x="-1.66" textLength="101.74" lengthAdjust="spacingAndGlyphs">Number</tspan> <tspan x="107.77" textLength="25.1" lengthAdjust="spacingAndGlyphs">of</tspan> <tspan x="140.37" textLength="65.29" lengthAdjust="spacingAndGlyphs">input</tspan> <tspan x="213.68" textLength="92.38" lengthAdjust="spacingAndGlyphs">angles,</tspan> <tspan x="313.43" textLength="21.49" lengthAdjust="spacingAndGlyphs" font-style="italic">M</tspan></text>
<text transform="translate(781.08 69.9) scale(0.8711 1)" font-size="28.07">RGF</text>
<text transform="translate(668.54 190.55) scale(0.9317 1)" font-size="28.07">RCWA</text>
<text transform="translate(671.5 535.1)" font-size="28.07"><tspan x="-0.06" textLength="47.43" lengthAdjust="spacingAndGlyphs">APF</tspan><tspan x="47.92" textLength="23.71" lengthAdjust="spacingAndGlyphs">-c</tspan></text>
<text transform="translate(562.76 265.84) rotate(-45) scale(0.8874 1)" font-size="27.78">FDFD</text>
<text transform="translate(573.52 300.18) rotate(-45) scale(1.0406 1)" font-size="27.78">iterative</text>
<text transform="translate(602.5 352.1) rotate(-45)" font-size="28.07"><tspan x="-2.07" textLength="66.78" lengthAdjust="spacingAndGlyphs">FDFD</tspan> <tspan x="72.43" textLength="73" lengthAdjust="spacingAndGlyphs">direct</tspan></text>
<text transform="translate(708.7 408.5) rotate(-45)" font-size="28.07"><tspan x="-2.07" textLength="66.78" lengthAdjust="spacingAndGlyphs">FDFD</tspan> <tspan x="72.44" textLength="72.59" lengthAdjust="spacingAndGlyphs">direct</tspan></text>
<text transform="translate(399.82 28.7) scale(1.1655 1)" font-size="36.7" font-weight="bold" stroke="#000" stroke-width="1.2" stroke-linejoin="round">b</text>
<clipPath id="cc"><rect x="1091.05" y="28.67" width="415.45" height="550.68"/></clipPath>
<g stroke="#1a1a1a" stroke-width="1.2" fill="none">
<line x1="1091.05" y1="560.93" x2="1096.25" y2="560.93"/>
<line x1="1091.05" y1="545.46" x2="1096.25" y2="545.46"/>
<line x1="1091.05" y1="532.05" x2="1096.25" y2="532.05"/>
<line x1="1091.05" y1="520.23" x2="1096.25" y2="520.23"/>
<line x1="1091.05" y1="509.65" x2="1101.35" y2="509.65"/>
<line x1="1091.05" y1="440.07" x2="1096.25" y2="440.07"/>
<line x1="1091.05" y1="399.36" x2="1096.25" y2="399.36"/>
<line x1="1091.05" y1="370.48" x2="1096.25" y2="370.48"/>
<line x1="1091.05" y1="348.08" x2="1096.25" y2="348.08"/>
<line x1="1091.05" y1="329.78" x2="1096.25" y2="329.78"/>
<line x1="1091.05" y1="314.31" x2="1096.25" y2="314.31"/>
<line x1="1091.05" y1="300.9" x2="1096.25" y2="300.9"/>
<line x1="1091.05" y1="289.08" x2="1096.25" y2="289.08"/>
<line x1="1091.05" y1="278.5" x2="1101.35" y2="278.5"/>
<line x1="1091.05" y1="208.92" x2="1096.25" y2="208.92"/>
<line x1="1091.05" y1="168.21" x2="1096.25" y2="168.21"/>
<line x1="1091.05" y1="139.33" x2="1096.25" y2="139.33"/>
<line x1="1091.05" y1="116.93" x2="1096.25" y2="116.93"/>
<line x1="1091.05" y1="98.63" x2="1096.25" y2="98.63"/>
<line x1="1091.05" y1="83.16" x2="1096.25" y2="83.16"/>
<line x1="1091.05" y1="69.75" x2="1096.25" y2="69.75"/>
<line x1="1091.05" y1="57.93" x2="1096.25" y2="57.93"/>
<line x1="1091.05" y1="47.35" x2="1101.35" y2="47.35"/>
</g>
<g stroke="#1a1a1a" stroke-width="1.2" fill="none">
<line x1="1098.46" y1="579.35" x2="1098.46" y2="574.15"/>
<line x1="1104.93" y1="579.35" x2="1104.93" y2="574.15"/>
<line x1="1110.54" y1="579.35" x2="1110.54" y2="574.15"/>
<line x1="1115.48" y1="579.35" x2="1115.48" y2="574.15"/>
<line x1="1119.9" y1="579.35" x2="1119.9" y2="569.15"/>
<line x1="1148.99" y1="579.35" x2="1148.99" y2="574.15"/>
<line x1="1166" y1="579.35" x2="1166" y2="574.15"/>
<line x1="1178.07" y1="579.35" x2="1178.07" y2="574.15"/>
<line x1="1187.43" y1="579.35" x2="1187.43" y2="574.15"/>
<line x1="1195.08" y1="579.35" x2="1195.08" y2="574.15"/>
<line x1="1201.55" y1="579.35" x2="1201.55" y2="574.15"/>
<line x1="1207.16" y1="579.35" x2="1207.16" y2="574.15"/>
<line x1="1212.1" y1="579.35" x2="1212.1" y2="574.15"/>
<line x1="1216.52" y1="579.35" x2="1216.52" y2="569.15"/>
<line x1="1245.61" y1="579.35" x2="1245.61" y2="574.15"/>
<line x1="1262.62" y1="579.35" x2="1262.62" y2="574.15"/>
<line x1="1274.69" y1="579.35" x2="1274.69" y2="574.15"/>
<line x1="1284.05" y1="579.35" x2="1284.05" y2="574.15"/>
<line x1="1291.7" y1="579.35" x2="1291.7" y2="574.15"/>
<line x1="1298.17" y1="579.35" x2="1298.17" y2="574.15"/>
<line x1="1303.78" y1="579.35" x2="1303.78" y2="574.15"/>
<line x1="1308.72" y1="579.35" x2="1308.72" y2="574.15"/>
<line x1="1313.14" y1="579.35" x2="1313.14" y2="569.15"/>
<line x1="1342.23" y1="579.35" x2="1342.23" y2="574.15"/>
<line x1="1359.24" y1="579.35" x2="1359.24" y2="574.15"/>
<line x1="1371.31" y1="579.35" x2="1371.31" y2="574.15"/>
<line x1="1380.67" y1="579.35" x2="1380.67" y2="574.15"/>
<line x1="1388.32" y1="579.35" x2="1388.32" y2="574.15"/>
<line x1="1394.79" y1="579.35" x2="1394.79" y2="574.15"/>
<line x1="1400.4" y1="579.35" x2="1400.4" y2="574.15"/>
<line x1="1405.34" y1="579.35" x2="1405.34" y2="574.15"/>
<line x1="1409.76" y1="579.35" x2="1409.76" y2="569.15"/>
<line x1="1438.85" y1="579.35" x2="1438.85" y2="574.15"/>
<line x1="1455.86" y1="579.35" x2="1455.86" y2="574.15"/>
<line x1="1467.93" y1="579.35" x2="1467.93" y2="574.15"/>
<line x1="1477.29" y1="579.35" x2="1477.29" y2="574.15"/>
<line x1="1484.94" y1="579.35" x2="1484.94" y2="574.15"/>
<line x1="1491.41" y1="579.35" x2="1491.41" y2="574.15"/>
<line x1="1497.02" y1="579.35" x2="1497.02" y2="574.15"/>
<line x1="1501.96" y1="579.35" x2="1501.96" y2="574.15"/>
</g>
<g clip-path="url(#cc)">
<line x1="1132" y1="99.8" x2="1154.05" y2="99.8" stroke="#ed6b26" stroke-width="2.8"/>
<line x1="1178.05" y1="99.8" x2="1208.55" y2="99.8" stroke="#ed6b26" stroke-width="2.8"/>
<line x1="1232.55" y1="99.8" x2="1257.05" y2="99.8" stroke="#ed6b26" stroke-width="2.8"/>
<line x1="1281.05" y1="99.8" x2="1305.7" y2="99.8" stroke="#ed6b26" stroke-width="2.8"/>
<line x1="1329.7" y1="99.8" x2="1354.85" y2="99.8" stroke="#ed6b26" stroke-width="2.8"/>
<line x1="1378.85" y1="99.8" x2="1404.1" y2="99.8" stroke="#ed6b26" stroke-width="2.8"/>
<line x1="1428.1" y1="99.8" x2="1453.15" y2="99.8" stroke="#ed6b26" stroke-width="2.8"/>
<polygon points="1120,88.88 1129.09,105.26 1110.91,105.26" fill="none" stroke="#ed6b26" stroke-width="1.25"/>
<polygon points="1166.05,88.88 1175.14,105.26 1156.96,105.26" fill="none" stroke="#ed6b26" stroke-width="1.25"/>
<polygon points="1220.55,88.88 1229.64,105.26 1211.46,105.26" fill="none" stroke="#ed6b26" stroke-width="1.25"/>
<polygon points="1269.05,88.88 1278.14,105.26 1259.96,105.26" fill="none" stroke="#ed6b26" stroke-width="1.25"/>
<polygon points="1317.7,88.88 1326.79,105.26 1308.61,105.26" fill="none" stroke="#ed6b26" stroke-width="1.25"/>
<polygon points="1366.85,88.88 1375.94,105.26 1357.76,105.26" fill="none" stroke="#ed6b26" stroke-width="1.25"/>
<polygon points="1416.1,88.88 1425.19,105.26 1407.01,105.26" fill="none" stroke="#ed6b26" stroke-width="1.25"/>
<polygon points="1465.15,88.88 1474.24,105.26 1456.06,105.26" fill="none" stroke="#ed6b26" stroke-width="1.25"/>
<line x1="1132" y1="131.25" x2="1154.05" y2="131.25" stroke="#0a7f0a" stroke-width="2.8"/>
<line x1="1178.05" y1="131.25" x2="1208.55" y2="131.25" stroke="#0a7f0a" stroke-width="2.8"/>
<line x1="1232.55" y1="131.25" x2="1257.05" y2="131.25" stroke="#0a7f0a" stroke-width="2.8"/>
<line x1="1281.05" y1="131.25" x2="1305.7" y2="131.25" stroke="#0a7f0a" stroke-width="2.8"/>
<line x1="1329.7" y1="131.25" x2="1354.85" y2="131.25" stroke="#0a7f0a" stroke-width="2.8"/>
<line x1="1378.85" y1="131.25" x2="1404.1" y2="131.25" stroke="#0a7f0a" stroke-width="2.8"/>
<line x1="1428.1" y1="131.25" x2="1453.15" y2="131.25" stroke="#0a7f0a" stroke-width="2.8"/>
<polygon points="1120,142.17 1129.09,125.79 1110.91,125.79" fill="none" stroke="#0a7f0a" stroke-width="1.25"/>
<polygon points="1166.05,142.17 1175.14,125.79 1156.96,125.79" fill="none" stroke="#0a7f0a" stroke-width="1.25"/>
<polygon points="1220.55,142.17 1229.64,125.79 1211.46,125.79" fill="none" stroke="#0a7f0a" stroke-width="1.25"/>
<polygon points="1269.05,142.17 1278.14,125.79 1259.96,125.79" fill="none" stroke="#0a7f0a" stroke-width="1.25"/>
<polygon points="1317.7,142.17 1326.79,125.79 1308.61,125.79" fill="none" stroke="#0a7f0a" stroke-width="1.25"/>
<polygon points="1366.85,142.17 1375.94,125.79 1357.76,125.79" fill="none" stroke="#0a7f0a" stroke-width="1.25"/>
<polygon points="1416.1,142.17 1425.19,125.79 1407.01,125.79" fill="none" stroke="#0a7f0a" stroke-width="1.25"/>
<polygon points="1465.15,142.17 1474.24,125.79 1456.06,125.79" fill="none" stroke="#0a7f0a" stroke-width="1.25"/>
<line x1="1132" y1="261.5" x2="1154.05" y2="261.5" stroke="#2d2bd2" stroke-width="2.8"/>
<line x1="1178.05" y1="261.5" x2="1208.55" y2="261.5" stroke="#2d2bd2" stroke-width="2.8"/>
<line x1="1232.55" y1="261.5" x2="1257.05" y2="261.5" stroke="#2d2bd2" stroke-width="2.8"/>
<line x1="1281.05" y1="261.5" x2="1305.7" y2="261.5" stroke="#2d2bd2" stroke-width="2.8"/>
<line x1="1329.7" y1="261.5" x2="1354.85" y2="261.5" stroke="#2d2bd2" stroke-width="2.8"/>
<line x1="1378.85" y1="261.5" x2="1404.1" y2="261.5" stroke="#2d2bd2" stroke-width="2.8"/>
<line x1="1428.1" y1="261.5" x2="1453.15" y2="261.5" stroke="#2d2bd2" stroke-width="2.8"/>
<polygon points="1113.25,254.48 1126.75,254.48 1126.75,268.52 1113.25,268.52" fill="#2d2bd2" stroke="#2d2bd2" stroke-width="1.25"/>
<polygon points="1159.3,254.48 1172.8,254.48 1172.8,268.52 1159.3,268.52" fill="#2d2bd2" stroke="#2d2bd2" stroke-width="1.25"/>
<polygon points="1213.8,254.48 1227.3,254.48 1227.3,268.52 1213.8,268.52" fill="#2d2bd2" stroke="#2d2bd2" stroke-width="1.25"/>
<polygon points="1262.3,254.48 1275.8,254.48 1275.8,268.52 1262.3,268.52" fill="#2d2bd2" stroke="#2d2bd2" stroke-width="1.25"/>
<polygon points="1310.95,254.48 1324.45,254.48 1324.45,268.52 1310.95,268.52" fill="#2d2bd2" stroke="#2d2bd2" stroke-width="1.25"/>
<polygon points="1360.1,254.48 1373.6,254.48 1373.6,268.52 1360.1,268.52" fill="none" stroke="#2d2bd2" stroke-width="1.25"/>
<polygon points="1409.35,254.48 1422.85,254.48 1422.85,268.52 1409.35,268.52" fill="none" stroke="#2d2bd2" stroke-width="1.25"/>
<polygon points="1458.4,254.48 1471.9,254.48 1471.9,268.52 1458.4,268.52" fill="none" stroke="#2d2bd2" stroke-width="1.25"/>
<line x1="1132" y1="432.6" x2="1154.05" y2="432.6" stroke="#7f00ff" stroke-width="2.8"/>
<line x1="1178.05" y1="432.6" x2="1208.55" y2="432.6" stroke="#7f00ff" stroke-width="2.8"/>
<line x1="1232.55" y1="432.6" x2="1257.05" y2="432.6" stroke="#7f00ff" stroke-width="2.8"/>
<line x1="1281.05" y1="432.6" x2="1305.7" y2="432.6" stroke="#7f00ff" stroke-width="2.8"/>
<line x1="1329.7" y1="432.6" x2="1354.85" y2="432.6" stroke="#7f00ff" stroke-width="2.8"/>
<line x1="1378.85" y1="432.6" x2="1404.1" y2="432.6" stroke="#7f00ff" stroke-width="2.8"/>
<line x1="1428.1" y1="432.6" x2="1453.15" y2="432.6" stroke="#7f00ff" stroke-width="2.8"/>
<polygon points="1120,423.14 1128.65,429.68 1125.35,440.26 1114.65,440.26 1111.35,429.68" fill="#7f00ff" stroke="#7f00ff" stroke-width="1.25"/>
<polygon points="1166.05,423.14 1174.7,429.68 1171.4,440.26 1160.7,440.26 1157.4,429.68" fill="none" stroke="#7f00ff" stroke-width="1.25"/>
<polygon points="1220.55,423.14 1229.2,429.68 1225.9,440.26 1215.2,440.26 1211.9,429.68" fill="none" stroke="#7f00ff" stroke-width="1.25"/>
<polygon points="1269.05,423.14 1277.7,429.68 1274.4,440.26 1263.7,440.26 1260.4,429.68" fill="none" stroke="#7f00ff" stroke-width="1.25"/>
<polygon points="1317.7,423.14 1326.35,429.68 1323.05,440.26 1312.35,440.26 1309.05,429.68" fill="none" stroke="#7f00ff" stroke-width="1.25"/>
<polygon points="1366.85,423.14 1375.5,429.68 1372.2,440.26 1361.5,440.26 1358.2,429.68" fill="none" stroke="#7f00ff" stroke-width="1.25"/>
<polygon points="1416.1,423.14 1424.75,429.68 1421.45,440.26 1410.75,440.26 1407.45,429.68" fill="none" stroke="#7f00ff" stroke-width="1.25"/>
<polygon points="1465.15,423.14 1473.8,429.68 1470.5,440.26 1459.8,440.26 1456.5,429.68" fill="none" stroke="#7f00ff" stroke-width="1.25"/>
<line x1="1132" y1="557.2" x2="1154.05" y2="557.2" stroke="#d62a2a" stroke-width="2.8"/>
<line x1="1178.05" y1="557.27" x2="1208.55" y2="557.43" stroke="#d62a2a" stroke-width="2.8"/>
<line x1="1232.54" y1="557.03" x2="1257.06" y2="556.07" stroke="#d62a2a" stroke-width="2.8"/>
<line x1="1281.05" y1="555.53" x2="1305.7" y2="555.37" stroke="#d62a2a" stroke-width="2.8"/>
<line x1="1329.7" y1="555.3" x2="1354.85" y2="555.3" stroke="#d62a2a" stroke-width="2.8"/>
<line x1="1378.84" y1="554.74" x2="1404.11" y2="553.56" stroke="#d62a2a" stroke-width="2.8"/>
<line x1="1428.02" y1="551.64" x2="1453.23" y2="548.76" stroke="#d62a2a" stroke-width="2.8"/>
<polygon points="1120,547.6 1122.17,554.21 1129.13,554.23 1123.52,558.34 1125.64,564.97 1120,560.9 1114.36,564.97 1116.48,558.34 1110.87,554.23 1117.83,554.21" fill="#d62a2a" stroke="#d62a2a" stroke-width="0.6"/>
<polygon points="1166.05,547.6 1168.22,554.21 1175.18,554.23 1169.57,558.34 1171.69,564.97 1166.05,560.9 1160.41,564.97 1162.53,558.34 1156.92,554.23 1163.88,554.21" fill="#d62a2a" stroke="#d62a2a" stroke-width="0.6"/>
<polygon points="1220.55,547.9 1222.72,554.51 1229.68,554.53 1224.07,558.64 1226.19,565.27 1220.55,561.2 1214.91,565.27 1217.03,558.64 1211.42,554.53 1218.38,554.51" fill="#d62a2a" stroke="#d62a2a" stroke-width="0.6"/>
<polygon points="1269.05,546 1271.22,552.61 1278.18,552.63 1272.57,556.74 1274.69,563.37 1269.05,559.3 1263.41,563.37 1265.53,556.74 1259.92,552.63 1266.88,552.61" fill="#d62a2a" stroke="#d62a2a" stroke-width="0.6"/>
<polygon points="1317.7,545.7 1319.87,552.31 1326.83,552.33 1321.22,556.44 1323.34,563.07 1317.7,559 1312.06,563.07 1314.18,556.44 1308.57,552.33 1315.53,552.31" fill="#d62a2a" stroke="#d62a2a" stroke-width="0.6"/>
<polygon points="1366.85,545.7 1369.02,552.31 1375.98,552.33 1370.37,556.44 1372.49,563.07 1366.85,559 1361.21,563.07 1363.33,556.44 1357.72,552.33 1364.68,552.31" fill="#d62a2a" stroke="#d62a2a" stroke-width="0.6"/>
<polygon points="1416.1,543.4 1418.27,550.01 1425.23,550.03 1419.62,554.14 1421.74,560.77 1416.1,556.7 1410.46,560.77 1412.58,554.14 1406.97,550.03 1413.93,550.01" fill="#d62a2a" stroke="#d62a2a" stroke-width="0.6"/>
<polygon points="1465.15,537.8 1467.32,544.41 1474.28,544.43 1468.67,548.54 1470.79,555.17 1465.15,551.1 1459.51,555.17 1461.63,548.54 1456.02,544.43 1462.98,544.41" fill="#d62a2a" stroke="#d62a2a" stroke-width="0.6"/>
</g>
<rect x="1091.05" y="28.67" width="415.45" height="550.68" fill="none" stroke="#1e1e1e" stroke-width="1.3" stroke-linejoin="round"/>
<text transform="translate(1045.65 520.95) scale(0.9692 1)" font-size="24.1">10<tspan font-size="15.68" dx="0.38" dy="-12.1">1</tspan></text>
<text transform="translate(1043.05 289.8) scale(0.9692 1)" font-size="24.1">10<tspan font-size="15.68" dx="0.38" dy="-12.1">2</tspan></text>
<text transform="translate(1042.75 58.65) scale(0.9692 1)" font-size="24.1">10<tspan font-size="15.68" dx="0.38" dy="-12.1">3</tspan></text>
<text transform="translate(1100.35 615.6) scale(0.9692 1)" font-size="24.1">10<tspan font-size="15.68" dx="0.38" dy="-12.1">0</tspan></text>
<text transform="translate(1196.65 615.6) scale(0.9692 1)" font-size="24.1">10<tspan font-size="15.68" dx="0.38" dy="-12.1">1</tspan></text>
<text transform="translate(1293.15 615.6) scale(0.9692 1)" font-size="24.1">10<tspan font-size="15.68" dx="0.38" dy="-12.1">2</tspan></text>
<text transform="translate(1388.95 615.6) scale(0.9692 1)" font-size="24.1">10<tspan font-size="15.68" dx="0.38" dy="-12.1">3</tspan></text>
<text transform="translate(1476.25 615.6) scale(0.9692 1)" font-size="24.1">10<tspan font-size="15.68" dx="0.38" dy="-12.1">4</tspan></text>
<text transform="translate(1012 430.1) rotate(-90)" font-size="28.36"><tspan x="-1.77" textLength="103.58" lengthAdjust="spacingAndGlyphs">Memory</tspan> <tspan x="109.29" textLength="76.06" lengthAdjust="spacingAndGlyphs">usage</tspan> <tspan x="191.29" textLength="63.73" lengthAdjust="spacingAndGlyphs">(GiB)</tspan></text>
<text transform="translate(1131.95 663.95)" font-size="27.78"><tspan x="-1.66" textLength="101.74" lengthAdjust="spacingAndGlyphs">Number</tspan> <tspan x="107.77" textLength="25.1" lengthAdjust="spacingAndGlyphs">of</tspan> <tspan x="140.37" textLength="65.29" lengthAdjust="spacingAndGlyphs">input</tspan> <tspan x="213.68" textLength="92.38" lengthAdjust="spacingAndGlyphs">angles,</tspan> <tspan x="313.43" textLength="21.49" lengthAdjust="spacingAndGlyphs" font-style="italic">M</tspan></text>
<text transform="translate(1252.95 78.85) scale(0.9280 1)" font-size="28.07">RCWA</text>
<text transform="translate(1265.66 175) scale(0.8809 1)" font-size="28.07">RGF</text>
<text transform="translate(1223.6 243.45)" font-size="28.07"><tspan x="-2.04" textLength="66.05" lengthAdjust="spacingAndGlyphs">FDFD</tspan> <tspan x="71.52" textLength="73.92" lengthAdjust="spacingAndGlyphs">direct</tspan></text>
<text transform="translate(1221.7 413.6)" font-size="28.07"><tspan x="-2.05" textLength="66.26" lengthAdjust="spacingAndGlyphs">FDFD</tspan> <tspan x="71.31" textLength="102.98" lengthAdjust="spacingAndGlyphs">iterative</tspan></text>
<text transform="translate(1257.1 538)" font-size="28.07"><tspan x="-0.06" textLength="47.43" lengthAdjust="spacingAndGlyphs">APF</tspan><tspan x="47.92" textLength="23.71" lengthAdjust="spacingAndGlyphs">-c</tspan></text>
<text transform="translate(987.93 28.7) scale(1.1340 1)" font-size="36.9" font-weight="bold" stroke="#000" stroke-width="1.2" stroke-linejoin="round">c</text>
</svg>
</body>
</html>
